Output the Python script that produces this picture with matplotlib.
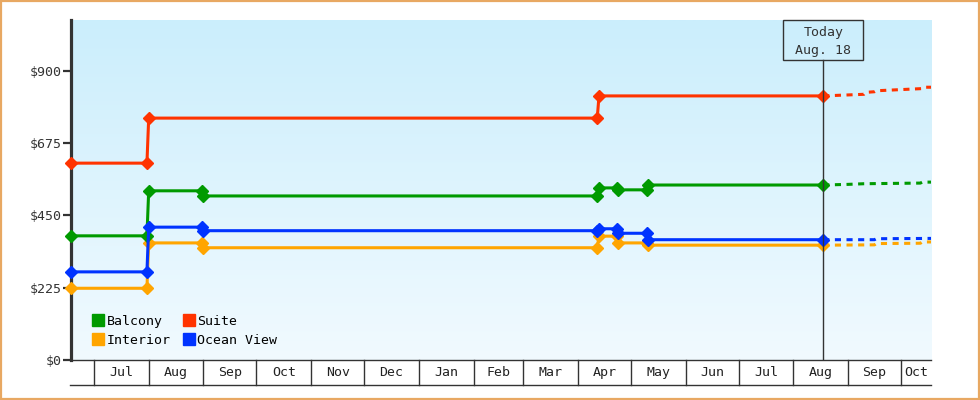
import numpy as np
import pandas as pd
import matplotlib
matplotlib.use("Agg")
import matplotlib.pyplot as plt
import matplotlib.dates as mdates
from matplotlib.lines import Line2D
from matplotlib.patches import Rectangle

plt.rcParams['font.family'] = ['DejaVu Sans Mono']

# price history (points where the fare changed)
interior_dates = ['2022-06-18', '2022-07-31', '2022-08-01', '2022-08-31', '2022-09-01', '2023-04-12',
                  '2023-04-13', '2023-04-23', '2023-04-24', '2023-05-10', '2023-05-11', '2023-08-18']
interior_prices = [223, 223, 364, 364, 349, 349, 385, 385, 364, 364, 357, 357]

balcony_dates = interior_dates
balcony_prices = [386, 386, 526, 526, 510, 510, 535, 535, 529, 529, 544, 544]

ocean_dates = interior_dates
ocean_prices = [274, 274, 413, 413, 402, 402, 408, 408, 394, 394, 374, 374]

suite_dates = ['2022-06-18', '2022-07-31', '2022-08-01', '2023-04-12', '2023-04-13', '2023-08-18']
suite_prices = [612, 612, 752, 752, 821, 821]

# forecast after today
interior_fc_dates = ['2023-08-18', '2023-09-16', '2023-09-17', '2023-10-12', '2023-10-13', '2023-10-18']
interior_fc_prices = [357, 358, 362, 363, 367, 367]
balcony_fc_dates = ['2023-08-18', '2023-09-01', '2023-09-10', '2023-10-12', '2023-10-13', '2023-10-18']
balcony_fc_prices = [544, 546, 548, 550, 553, 553]
ocean_fc_dates = ['2023-08-18', '2023-09-16', '2023-09-17', '2023-10-18']
ocean_fc_prices = [374, 374, 377, 378]
suite_fc_dates = ['2023-08-18', '2023-09-10', '2023-09-11', '2023-09-16', '2023-09-17', '2023-10-14', '2023-10-15', '2023-10-18']
suite_fc_prices = [821, 826, 832, 834, 837, 844, 848, 848]

today = '2023-08-18'
today_label = ['Today', 'Aug. 18']
x_start, x_end = '2022-06-18', '2023-10-18'
y_ticks = [0, 225, 450, 675, 900]

colors = {'Balcony': '#009a00', 'Suite': '#ff3300', 'Interior': '#ffa500', 'Ocean View': '#0033ff'}

fig = plt.figure(figsize=(9.8, 4.0), dpi=100)
ax = fig.add_axes([71 / 980, 40 / 400, 860 / 980, 340 / 400])

# background gradient
top = np.array([203, 238, 252]) / 255
bot = np.array([241, 250, 255]) / 255
t = np.linspace(0, 1, 256)[:, None]
grad = (top * (1 - t) + bot * t)[:, None, :]
ax.imshow(grad, extent=[0, 1, 0, 1], transform=ax.transAxes, aspect='auto', zorder=0)

def d(lst):
    return mdates.date2num(pd.to_datetime(lst))

series = [
    ('Interior', interior_dates, interior_prices, interior_fc_dates, interior_fc_prices),
    ('Balcony', balcony_dates, balcony_prices, balcony_fc_dates, balcony_fc_prices),
    ('Ocean View', ocean_dates, ocean_prices, ocean_fc_dates, ocean_fc_prices),
    ('Suite', suite_dates, suite_prices, suite_fc_dates, suite_fc_prices),
]
for name, dts, prices, fdts, fprices in series:
    c = colors[name]
    ax.plot(d(fdts), fprices, color=c, lw=2.2, dashes=(2.0, 1.8), zorder=3)
    ax.plot(d(dts), prices, color=c, lw=2.2, marker='D', markersize=6, zorder=4, clip_on=False)

ax.set_xlim(d([x_start])[0], d([x_end])[0])
ax.set_ylim(0, 1057)

# today marker line + box
xt = d([today])[0]
box_h = 40 / 340
ax.plot([xt, xt], [0, 1 - box_h], transform=ax.get_xaxis_transform(), color='#333333', lw=1, zorder=5)
box_w = 80 / (860 / (d([x_end])[0] - d([x_start])[0]))
ax.add_patch(Rectangle((xt - box_w / 2, 1 - box_h), box_w, box_h, transform=ax.get_xaxis_transform(),
                       facecolor='none', edgecolor='#333333', lw=1, zorder=6, clip_on=False))
ax.text(xt, 1 - 12.5 / 340, today_label[0], transform=ax.get_xaxis_transform(), ha='center', va='center',
        fontsize=9.5, color='#333333', zorder=7)
ax.text(xt, 1 - 30.5 / 340, today_label[1], transform=ax.get_xaxis_transform(), ha='center', va='center',
        fontsize=9.5, color='#333333', zorder=7)

# axes styling
for s in ['top', 'right']:
    ax.spines[s].set_visible(False)
ax.spines['left'].set_linewidth(2.3)
ax.spines['left'].set_color('#333333')
ax.spines['bottom'].set_linewidth(1)
ax.spines['bottom'].set_color('#333333')
ax.set_yticks(y_ticks)
ax.set_yticklabels(['$%d' % v for v in y_ticks])
ax.tick_params(axis='y', length=6, width=1.6, color='#333333', pad=1, labelsize=9.5, labelcolor='#333333')
ax.set_xticks([])

# month band below the plot
band = 25 / 340
xtr = ax.get_xaxis_transform()
months = pd.date_range('2022-07-01', x_end, freq='MS')
x0 = d([x_start])[0]
x1 = d([x_end])[0]
for m in months:
    mx = mdates.date2num(m)
    ax.plot([mx, mx], [0, -band], transform=xtr, color='#333333', lw=1, clip_on=False)
edges = [x0] + [mdates.date2num(m) for m in months] + [x1]
labels = [None] + [m.strftime('%b') for m in months]
for i, lab in enumerate(labels):
    a, b = edges[i], edges[i + 1]
    if lab is None or b - a < 15:
        continue
    ax.text((a + b) / 2, -band / 2, lab, transform=xtr, ha='center', va='center',
            fontsize=9.5, color='#222222', clip_on=False)
ax.plot([-1.5 / 860, 1], [-band, -band], transform=ax.transAxes, color='#333333', lw=1, clip_on=False)

# legend
order = ['Balcony', 'Interior', 'Suite', 'Ocean View']
handles = [Line2D([], [], marker='s', markersize=8.5, ls='none', color=colors[n]) for n in order]
ax.legend(handles, order, loc='lower left', bbox_to_anchor=(0.015, 0.012), ncol=2, frameon=False,
          handlelength=0.8, handletextpad=0.25, columnspacing=0.95, labelspacing=0.45,
          prop={'size': 9.5}, borderpad=0.2)

# figure border
fig.patches.append(Rectangle((0.001, 0.0015), 0.998, 0.997, transform=fig.transFigure,
                             facecolor='none', edgecolor='#e8a862', lw=1.6))

fig.savefig('out.png', dpi=100)
